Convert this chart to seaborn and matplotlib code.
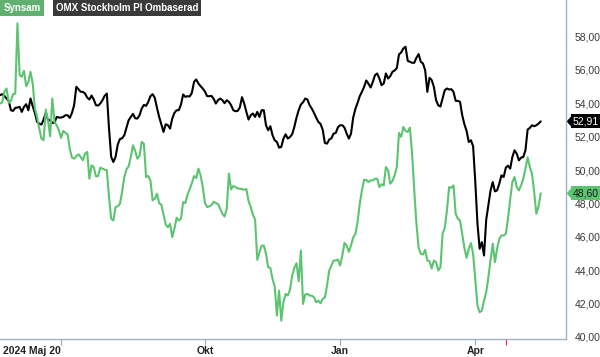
import numpy as np
import pandas as pd
import seaborn as sns
import matplotlib.pyplot as plt
import matplotlib.transforms as mtransforms
from matplotlib.patches import Polygon

# trading days (Stockholm), 2024-05-20 .. 2025-05-16
holidays = ['2024-06-06', '2024-06-21', '2024-12-24', '2024-12-25', '2024-12-26', '2024-12-31',
            '2025-01-01', '2025-01-06', '2025-04-18', '2025-04-21', '2025-05-01']

synsam = [53.98, 54.04, 54.68, 54.88, 54.02, 54.14, 54.54, 54.58, 58.78, 55.68,
          55.58, 55.94, 55.02, 55.28, 55.88, 55.18, 53.68, 53.18, 52.48, 51.88,
          51.78, 53.62, 52.98, 52.02, 54.28, 52.88, 52.68, 52.38, 51.92, 52.34,
          52.22, 52.14, 51.28, 50.74, 50.68, 50.82, 50.94, 50.78, 50.58, 50.98,
          51.08, 49.48, 50.28, 50.18, 49.62, 49.64, 50.14, 50.08, 50.02, 49.98,
          48.38, 47.08, 46.98, 47.78, 47.82, 47.98, 48.68, 49.58, 50.04, 50.22,
          50.78, 51.48, 51.14, 50.68, 50.84, 51.68, 51.58, 49.58, 49.64, 49.38,
          48.18, 48.28, 48.58, 48.02, 47.92, 47.34, 46.74, 46.58, 46.78, 45.98,
          46.48, 47.14, 46.98, 47.08, 48.08, 48.02, 48.52, 48.84, 49.22, 49.64,
          49.52, 50.08, 49.68, 48.98, 48.02, 47.78, 47.82, 47.90, 48.10, 48.02,
          47.96, 47.68, 47.38, 47.22, 47.68, 49.78, 48.84, 49.04, 48.98, 48.90,
          48.88, 48.86, 48.82, 48.86, 48.14, 47.78, 47.34, 47.02, 44.62, 45.08,
          45.46, 45.48, 44.98, 44.18, 44.14, 43.48, 43.02, 41.28, 42.78, 40.98,
          42.08, 42.58, 42.48, 42.82, 43.68, 44.14, 44.42, 43.34, 45.18, 41.98,
          42.54, 42.58, 42.48, 42.48, 42.38, 42.08, 42.18, 42.02, 42.28, 42.36,
          43.08, 43.98, 44.28, 44.58, 44.58, 44.64, 44.28, 44.88, 45.64, 45.48,
          45.10, 45.48, 45.96, 46.18, 46.88, 47.98, 48.78, 49.42, 49.40, 49.28,
          49.38, 49.38, 49.48, 49.48, 48.98, 49.14, 49.08, 50.18, 49.98, 49.18,
          49.34, 49.68, 50.18, 52.22, 51.98, 52.58, 52.34, 52.28, 52.54, 50.98,
          48.78, 46.78, 45.34, 44.98, 44.94, 45.22, 44.58, 44.54, 44.10, 44.58,
          44.48, 43.98, 44.18, 46.18, 46.54, 47.58, 48.98, 48.94, 49.08, 47.38,
          47.08, 46.98, 46.18, 45.34, 44.74, 45.28, 45.62, 44.98, 43.42, 41.88,
          41.48, 41.58, 42.18, 42.68, 43.58, 44.62, 45.58, 44.48, 45.28, 45.88,
          46.08, 46.08, 46.18, 47.08, 48.24, 49.28, 49.58, 48.98, 48.78, 49.08,
          49.48, 50.08, 50.76, 50.18, 49.78, 48.68, 47.38, 47.82, 48.60]

omx = [54.48, 54.54, 54.44, 54.28, 54.14, 53.58, 53.54, 53.72, 53.74, 53.78,
       53.48, 53.78, 53.94, 53.58, 54.28, 53.82, 53.42, 52.88, 52.78, 52.72,
       53.02, 53.42, 52.98, 52.98, 52.82, 52.84, 53.18, 53.14, 53.14, 53.18,
       53.28, 53.28, 53.12, 53.42, 53.88, 54.98, 54.84, 54.68, 54.68, 54.58,
       54.34, 54.22, 54.46, 54.22, 53.88, 53.86, 53.98, 54.18, 54.44, 54.58,
       52.48, 50.78, 50.48, 50.78, 51.52, 51.86, 51.90, 52.08, 52.54, 52.98,
       53.18, 53.36, 53.10, 53.08, 53.28, 53.68, 53.90, 53.84, 54.08, 54.42,
       54.54, 54.32, 53.72, 53.18, 52.74, 52.28, 52.74, 52.68, 52.48, 53.08,
       53.42, 53.58, 53.58, 53.92, 54.52, 54.38, 54.42, 54.40, 54.62, 55.28,
       55.42, 55.18, 55.02, 54.88, 54.70, 54.42, 54.42, 54.44, 54.26, 53.98,
       54.18, 54.28, 54.18, 54.00, 54.18, 54.08, 53.88, 53.58, 53.52, 53.54,
       53.74, 54.36, 53.98, 53.48, 53.02, 53.28, 53.38, 53.18, 53.48, 53.18,
       53.58, 53.58, 52.68, 52.38, 52.62, 52.08, 51.78, 51.68, 51.34, 51.38,
       51.88, 52.14, 51.88, 51.98, 52.14, 52.58, 53.14, 53.58, 53.92, 54.06,
       54.28, 54.22, 53.88, 53.68, 53.42, 53.14, 52.88, 52.76, 52.42, 51.62,
       51.58, 51.82, 51.90, 52.18, 52.22, 52.56, 52.68, 52.68, 52.54, 52.18,
       51.88, 52.18, 53.14, 53.66, 54.02, 54.42, 54.68, 54.98, 55.36, 55.16,
       54.94, 55.28, 55.68, 55.78, 55.48, 55.08, 55.18, 55.78, 55.48, 55.62,
       55.88, 55.96, 56.10, 56.92, 57.04, 57.28, 57.38, 56.54, 56.48, 56.42,
       56.42, 56.72, 56.94, 56.48, 56.38, 55.98, 54.68, 55.52, 55.38, 54.98,
       54.18, 53.88, 53.80, 54.28, 54.78, 54.88, 54.82, 54.84, 54.68, 54.14,
       54.14, 54.08, 53.28, 52.74, 52.34, 51.68, 51.78, 51.42, 49.28, 46.78,
       45.28, 45.68, 44.88, 47.02, 47.88, 48.78, 49.28, 48.72, 48.78, 49.18,
       49.68, 49.58, 50.14, 50.26, 50.08, 50.78, 51.18, 50.98, 50.58, 50.74,
       50.78, 51.18, 52.42, 52.52, 52.68, 52.62, 52.68, 52.78, 52.91]

tick_dates = ['2024-07-01', '2024-10-01', '2025-01-01', '2025-04-01']
tick_labels = ['', 'Okt', 'Jan', 'Apr']
event_date = '2025-04-23'
yticks = [40, 42, 44, 46, 48, 50, 52, 54, 56, 58]

dates = pd.bdate_range('2024-05-20', periods=len(synsam), freq='C', holidays=holidays)
df = pd.DataFrame({'date': dates, 'pos': np.arange(len(dates)),
                   'Synsam': synsam, 'OMX Stockholm PI Ombaserad': omx})

green = '#5cc470'
sns.set_style('white')
plt.rcParams['font.family'] = ['Liberation Sans', 'DejaVu Sans']

fig = plt.figure(figsize=(6, 3.57), dpi=100)
ax = fig.add_axes([0, 18 / 357, 566 / 600, 339 / 357])

sns.lineplot(data=df, x='pos', y='OMX Stockholm PI Ombaserad', color='black', lw=1.5, ax=ax)
sns.lineplot(data=df, x='pos', y='Synsam', color=green, lw=1.5, ax=ax)

ax.set_xlim(0, 259.6)
ax.set_ylim(39.88, 60.18)
ax.set_xlabel('')
ax.set_ylabel('')

# y axis on the right, swedish decimal comma
ax.yaxis.tick_right()
ax.set_yticks(yticks)
ax.set_yticklabels([f'{v:.2f}'.replace('.', ',') for v in yticks], fontsize=7.5, color='#3a3a3a')
ax.tick_params(axis='y', length=0, pad=6)

# x axis ticks on trading day positions
tpos = [dates.searchsorted(pd.Timestamp(d)) for d in tick_dates]
ax.set_xticks(tpos)
ax.set_xticklabels(tick_labels, fontsize=7.5, fontweight='bold', color='#222222')
ax.set_xticks([dates.searchsorted(pd.Timestamp(event_date))], minor=True)
ax.tick_params(axis='x', which='both', bottom=True, direction='out')
ax.tick_params(axis='x', which='major', length=4, width=0.8, color='#8fa6ba', pad=1)
ax.tick_params(axis='x', which='minor', length=4, width=0.8, color='#e03030')
ax.annotate('2024 Maj 20', xy=(0, 0), xycoords='axes fraction', xytext=(2, -5),
            textcoords='offset points', ha='left', va='top', fontsize=7.5,
            fontweight='bold', color='#222222')

for side in ['top', 'left']:
    ax.spines[side].set_visible(False)
for side in ['right', 'bottom']:
    ax.spines[side].set_color('#9fb3c6')
    ax.spines[side].set_linewidth(1)

# legend boxes
ax.text(0.006, 0.992, 'Synsam', transform=ax.transAxes, ha='left', va='top',
        fontsize=7, fontweight='bold', color='white',
        bbox=dict(boxstyle='square,pad=0.3', fc='#62b070', ec='none'))
ax.text(0.099, 0.992, 'OMX Stockholm PI Ombaserad', transform=ax.transAxes, ha='left', va='top',
        fontsize=7, fontweight='bold', color='white',
        bbox=dict(boxstyle='square,pad=0.3', fc='#3a3a3a', ec='none'))

# last value tags
trans = mtransforms.blended_transform_factory(ax.transAxes, ax.transData)
for val, fc, tc in [(omx[-1], 'black', 'white'), (synsam[-1], green, '#1a1a1a')]:
    ax.add_patch(Polygon([[1.001, val], [1.012, val + 0.42], [1.012, val - 0.42]],
                         closed=True, transform=trans, fc=fc, ec='none', clip_on=False))
    ax.text(1.012, val, f'{val:.2f}'.replace('.', ','), transform=trans, ha='left', va='center',
            fontsize=7.5, color=tc,
            bbox=dict(boxstyle='square,pad=0.2', fc=fc, ec='none'))

fig.savefig('out.png', dpi=100)
